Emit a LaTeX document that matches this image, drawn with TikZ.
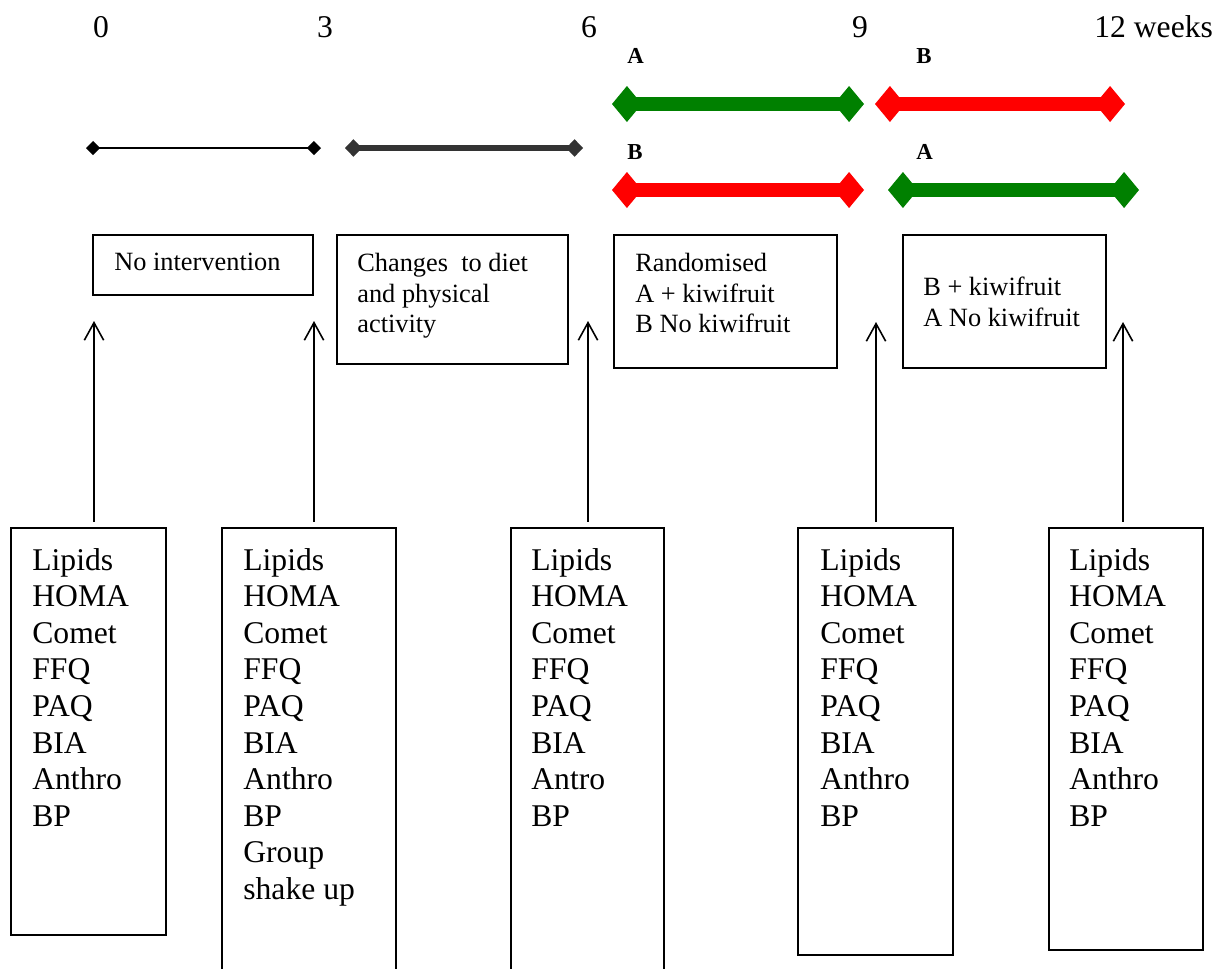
\documentclass[tikz,border=0pt]{standalone}
\usepackage{fontspec}
\setmainfont{Liberation Serif}
\usetikzlibrary{arrows.meta,fit}
\definecolor{kiwigreen}{RGB}{0,128,0}
\definecolor{kiwired}{RGB}{255,0,0}
\definecolor{runin}{RGB}{51,51,51}

\begin{document}
\begin{tikzpicture}
    [x = 0.02cm, y = -0.02cm, every node/.style = {inner sep = 0pt},
     week/.style = {font = \fontsize{18}{21}\selectfont, anchor = base},
     arm/.style = {font = \fontsize{13}{15}\selectfont\bfseries, anchor = base west},
     phase/.style = {draw, line width = 1.1pt},
     phasetext/.style = {font = \fontsize{15}{17.3}\selectfont, align = left, anchor = north west},
     meastext/.style = {font = \fontsize{18}{20.8}\selectfont, align = left, anchor = north west},
     thinbar/.style = {line width = 1.1pt, {Diamond[length=8pt,width=8pt]}-{Diamond[length=8pt,width=8pt]}},
     greybar/.style = {runin, line width = 3.6pt, {Diamond[length=9.6pt,width=10pt]}-{Diamond[length=9.6pt,width=10pt]}},
     armbar/.style = {#1, line width = 7.8pt, {Diamond[length=17pt,width=20.5pt]}-{Diamond[length=17pt,width=20.5pt]}},
     uparrow/.style = {line width = .9pt, shorten <= 3pt, -{Straight Barb[length=10pt,width=11pt]}}]
    \clip (0,0) rectangle (1226,968);

    \node[week] (w0) at (101,37) {0};
    \node[week] (w3) at (325,37) {3};
    \node[week] (w6) at (589,37) {6};
    \node[week] (w9) at (860,37) {9};
    \node[week, anchor = base west] (w12) at (1094,37) {12 weeks};

    \node[arm] (la1) at (627,63) {A};
    \node[arm] (lb2) at (916,63) {B};
    \node[arm] (lb1) at (627,159) {B};
    \node[arm] (la2) at (916,159) {A};

    \coordinate (s0) at (86,148);
    \coordinate (s1) at (321,148);
    \coordinate (r0) at (345,148);
    \coordinate (r1) at (583,148);
    \coordinate (a0) at (612,104);
    \coordinate (a1) at (864,104);
    \coordinate (b0) at (875,104);
    \coordinate (b1) at (1125,104);
    \coordinate (c0) at (612,190);
    \coordinate (c1) at (864,190);
    \coordinate (d0) at (888,190);
    \coordinate (d1) at (1139,190);
    \draw[thinbar] (s0) -- (s1);
    \draw[greybar] (r0) -- (r1);
    \foreach \from/\to/\col in {a0/a1/kiwigreen, b0/b1/kiwired, c0/c1/kiwired, d0/d1/kiwigreen}
      \draw[armbar = \col] (\from) -- (\to);

    \node[phase, fit = {(93,235) (313,295)}] (p0) {};
    \node[phase, fit = {(337,235) (568,364)}] (p1) {};
    \node[phase, fit = {(614,235) (837,368)}] (p2) {};
    \node[phase, fit = {(903,235) (1106,368)}] (p3) {};
    \node[phasetext] (p0t) at (114,253) {No intervention};
    \node[phasetext] (p1t) at (357,253) {Changes\ \ to diet\\and physical\\activity};
    \node[phasetext] (p2t) at (635,253) {Randomised\\A + kiwifruit\\B No kiwifruit};
    \node[phasetext] (p3t) at (923,277) {B + kiwifruit\\A No kiwifruit};

    \node[phase, fit = {(11,528) (166,935)}] (m0) {};
    \node[phase, fit = {(222,528) (396,990)}] (m1) {};
    \node[phase, fit = {(511,528) (664,990)}] (m2) {};
    \node[phase, fit = {(798,528) (953,955)}] (m3) {};
    \node[phase, fit = {(1049,528) (1203,950)}] (m4) {};
    \node[meastext] (m0t) at (32,548) {Lipids\\HOMA\\Comet\\FFQ\\PAQ\\BIA\\Anthro\\BP};
    \node[meastext] (m1t) at (243,548) {Lipids\\HOMA\\Comet\\FFQ\\PAQ\\BIA\\Anthro\\BP\\Group\\shake up};
    \node[meastext] (m2t) at (531,548) {Lipids\\HOMA\\Comet\\FFQ\\PAQ\\BIA\\Antro\\BP};
    \node[meastext] (m3t) at (820,548) {Lipids\\HOMA\\Comet\\FFQ\\PAQ\\BIA\\Anthro\\BP};
    \node[meastext] (m4t) at (1069,548) {Lipids\\HOMA\\Comet\\FFQ\\PAQ\\BIA\\Anthro\\BP};

    \coordinate (t0) at (94,321);
    \coordinate (t1) at (314,321);
    \coordinate (t2) at (588,321);
    \coordinate (t3) at (876,322);
    \coordinate (t4) at (1123,322);
    \foreach \from/\to in {m0/t0, m1/t1, m2/t2, m3/t3, m4/t4}
      \draw[uparrow] (\to |- \from.north) -- (\to);
  \end{tikzpicture}
\end{document}
